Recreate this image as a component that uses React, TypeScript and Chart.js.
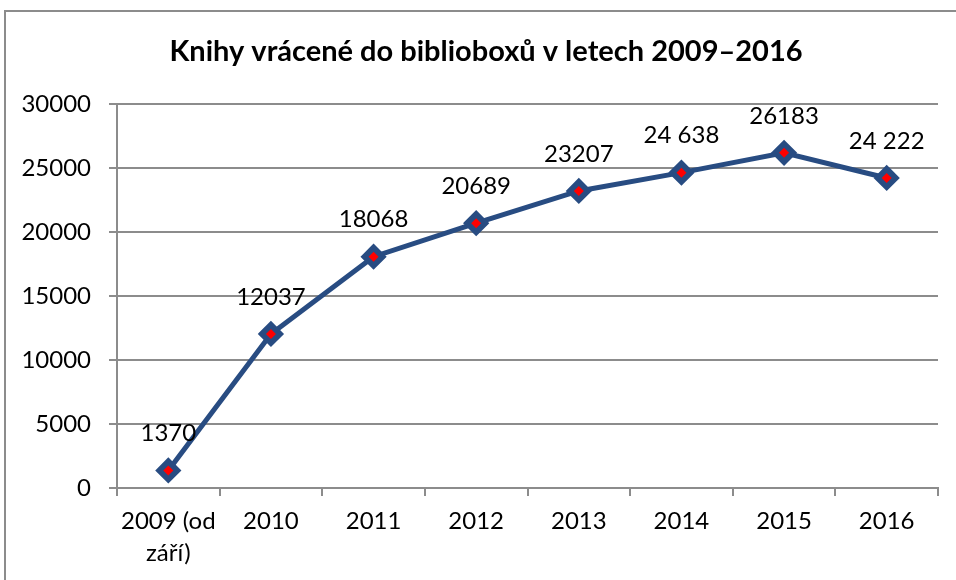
import React, { useEffect, useRef } from "react";
import { Chart, registerables } from "chart.js";

Chart.register(...registerables);

const categories: (string | string[])[] = [["2009 (od", "září)"], "2010", "2011", "2012", "2013", "2014", "2015", "2016"];
const values: number[] = [1370, 12037, 18068, 20689, 23207, 24638, 26183, 24222];
const valueLabels: string[] = ["1370", "12037", "18068", "20689", "23207", "24 638", "26183", "24 222"];
const titleText = "Knihy vrácené do biblioboxů v letech 2009–2016";

const FONT = "Lato, 'Liberation Sans', sans-serif";
const BLUE = "#284C82";

const framePlugin = {
  id: "frame",
  beforeDraw(chart: any) {
    const ctx = chart.ctx;
    ctx.save();
    ctx.fillStyle = "#ffffff";
    ctx.fillRect(0, 0, chart.width, chart.height);
    ctx.strokeStyle = "#8c8c8c";
    ctx.lineWidth = 2;
    ctx.beginPath();
    ctx.moveTo(5, chart.height + 5);
    ctx.lineTo(5, 11);
    ctx.lineTo(chart.width + 5, 11);
    ctx.stroke();
    ctx.fillStyle = "#000";
    ctx.font = `bold 29px ${FONT}`;
    ctx.textAlign = "center";
    ctx.textBaseline = "middle";
    ctx.fillText(titleText, 486, 52);
    ctx.restore();
  },
};

const labelPlugin = {
  id: "valueLabels",
  afterDatasetsDraw(chart: any) {
    const meta = chart.getDatasetMeta(0);
    const ctx = chart.ctx;
    ctx.save();
    ctx.fillStyle = "#000";
    ctx.font = `24px ${FONT}`;
    ctx.textAlign = "center";
    ctx.textBaseline = "middle";
    meta.data.forEach((pt: any, i: number) => {
      ctx.fillText(valueLabels[i], pt.x, pt.y - 37);
    });
    ctx.restore();
  },
};

export default function App() {
  const ref = useRef<HTMLCanvasElement>(null);
  useEffect(() => {
    if (!ref.current) return;
    const chart = new Chart(ref.current, {
      type: "line",
      data: {
        labels: categories,
        datasets: [
          {
            data: values,
            order: 2,
            borderColor: BLUE,
            borderWidth: 5,
            pointStyle: "rectRot",
            pointRadius: 11,
            pointBorderWidth: 3,
            pointBackgroundColor: BLUE,
            pointBorderColor: BLUE,
            tension: 0,
          },
          {
            data: values,
            order: 1,
            showLine: false,
            pointStyle: "rectRot",
            pointRadius: 5,
            pointBorderWidth: 0,
            pointBackgroundColor: "#FF0000",
            pointBorderColor: "#FF0000",
          },
        ],
      },
      options: {
        animation: false,
        responsive: false,
        maintainAspectRatio: false,
        layout: { padding: { top: 104, left: 0, right: 18, bottom: 0 } },
        plugins: { legend: { display: false }, tooltip: { enabled: false }, title: { display: false } },
        scales: {
          x: {
            offset: true,
            grid: { offset: true, drawOnChartArea: false, drawTicks: true, tickLength: 8, color: "#8c8c8c", lineWidth: 2 },
            border: { color: "#8c8c8c", width: 2 },
            ticks: { color: "#000", font: { family: FONT, size: 24, lineHeight: 1.3 }, padding: 10, maxRotation: 0, autoSkip: false },
            afterFit(scale: any) { scale.height = 92; },
          },
          y: {
            min: 0,
            max: 30000,
            grid: { color: "#8c8c8c", lineWidth: 2, tickLength: 8 },
            border: { color: "#8c8c8c", width: 2 },
            ticks: {
              stepSize: 5000,
              color: "#000",
              font: { family: FONT, size: 24 },
              padding: 18,
              callback: (v: any) => String(v),
            },
            afterFit(scale: any) { scale.width = 117; },
          },
        },
      },
      plugins: [framePlugin, labelPlugin],
    });
    return () => chart.destroy();
  }, []);
  return (
    <div style={{ position: "fixed", left: 0, top: 0, width: 956, height: 580 }}>
      <canvas ref={ref} width={956} height={580} style={{ width: 956, height: 580 }} />
    </div>
  );
}
